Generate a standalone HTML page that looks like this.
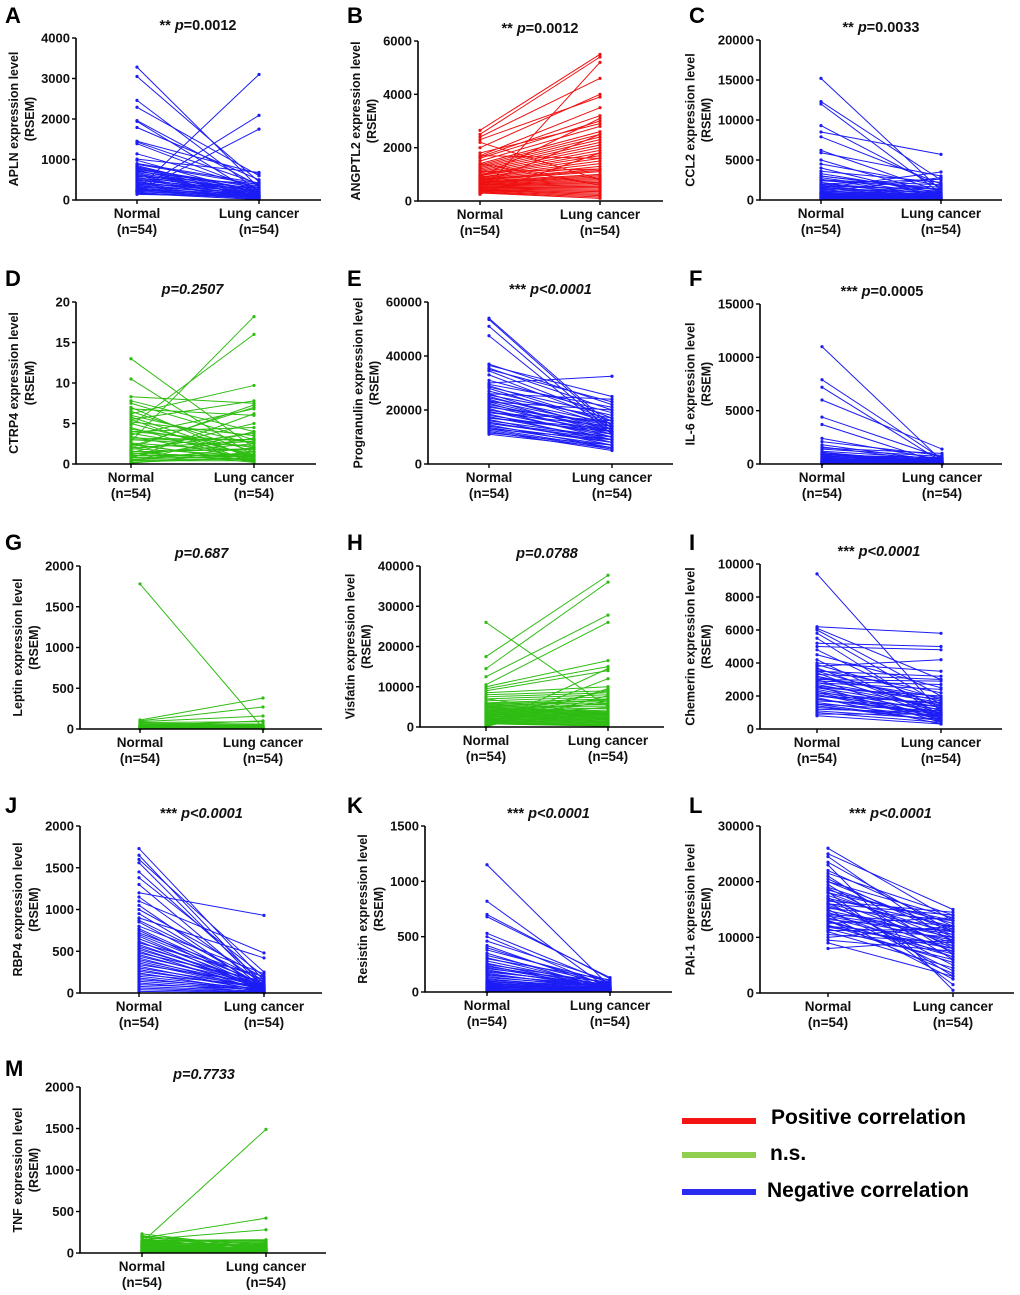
<!DOCTYPE html>
<html><head><meta charset="utf-8"><style>
body{margin:0;background:#fff;}
svg{display:block;font-family:"Liberation Sans",Arial,sans-serif;}
.tk{font-size:13px;font-weight:bold;fill:#111;}
.xl{font-size:13.5px;font-weight:bold;fill:#111;}
.yt{font-size:12.5px;font-weight:bold;fill:#111;}
.ti{font-size:14.5px;font-weight:bold;fill:#111;}
.lt{font-size:22px;font-weight:bold;fill:#000;}
.lg{font-size:21px;font-weight:bold;fill:#000;font-family:"Liberation Sans",sans-serif;}
</style></head><body>
<svg id="fig" width="1020" height="1295" viewBox="0 0 1020 1295"></svg>
<script>
// ---- data (RSEM values, Normal vs Lung cancer) ----
const aNormal=[3280,3050,2460,2290,1960,1940,1790,1450,1430,1390,1140,1010,980,900,880,850,820,800,780,760,740,720,700,680,650,620,600,580,560,540,520,500,480,460,440,420,400,380,360,340,320,300,280,260,250,240,220,200,180,160,140,250,220,200];
const aCancer=[300,450,200,600,350,100,500,650,400,250,300,680,150,420,380,120,200,90,300,250,60,180,350,140,80,220,110,400,60,300,160,90,250,40,130,200,70,300,110,50,180,80,20,150,60,100,30,120,40,10,80,3100,2090,1750];
const bNormal=[2650,2500,2400,2300,1700,1650,1600,1500,1400,1350,1300,1250,1200,1150,1100,1050,1000,980,950,900,880,850,820,800,780,750,720,700,680,650,620,600,580,550,520,500,480,450,420,400,380,350,320,300,280,250,1700,1800,2200,900,1100,600,1400,2000];
const bCancer=[5500,5400,4600,3900,3500,3200,3000,2800,2600,2500,2400,2300,2200,2100,2000,1900,1800,1700,1600,1500,1400,1300,1200,1150,1100,1000,950,900,850,800,750,700,650,600,550,500,450,400,350,300,250,200,150,100,5200,1800,1600,2900,800,3100,1200,2500,600,4000];
const cNormal=[15200,12300,12000,9300,8500,7900,6200,5900,5000,4500,4000,3600,3300,3000,2800,2600,2400,2200,2000,1900,1800,1700,1600,1500,1400,1300,1200,1100,1000,950,900,850,800,750,700,650,600,550,500,450,400,350,300,250,200,150,100,1500,2000,2500,1000,800,600,3000];
const cCancer=[1200,2500,800,1500,5700,2000,1000,3000,600,1800,400,2200,900,1300,700,500,1600,300,1100,800,200,1400,600,900,400,1000,300,700,200,500,800,400,600,300,200,500,100,300,400,200,100,300,150,200,100,50,100,3500,2600,1900,2800,700,300,1200];
const dNormal=[13,10.5,8.3,7.8,7.5,7,6.8,6.5,6.2,6,5.8,5.5,5.2,5,4.8,4.5,4.3,4,3.8,3.6,3.4,3.2,3,2.8,2.6,2.4,2.2,2,1.9,1.8,1.6,1.5,1.4,1.3,1.2,1.1,1,0.9,0.8,0.7,0.6,0.5,0.4,0.3,0.2,0.1,3,2.5,4,1,0.5,2,5.5,1.5];
const dCancer=[2,1,7.5,4,3,0.5,6,1.5,9.7,2.5,0.8,7.8,3.5,1,16,0.3,2,4.5,1.2,6.8,0.6,3,2.2,18.2,1.5,0.4,7,2.8,1,3.8,0.2,1.8,5,0.9,2.5,0.5,1.2,3.2,0.7,6.2,1,2,0.4,4,0.8,1.5,3,0.3,2.7,1.1,0.6,7.3,0.2,1.9];
const eNormal=[54000,53500,51000,47500,37000,36500,35500,35000,34500,33000,31000,30000,29500,29000,28500,28000,27000,26000,25500,25000,24500,24000,23500,23000,22500,22000,21500,21000,20500,20000,19500,19000,18500,18000,17500,17000,16500,16000,15500,15000,14500,14000,13500,13000,12500,12000,11500,11000,26000,23000,19000,17000,15000,13000];
const eCancer=[14000,13000,12000,11000,22000,25000,20000,23000,17000,16000,19000,32500,21000,15000,18000,14000,16000,12000,17000,13000,15000,11000,14000,12000,10000,13000,11000,15000,9000,12000,10000,14000,8000,11000,9000,12000,7000,10000,8000,9000,6000,8000,7000,6000,5500,5000,7000,6000,24000,20000,16000,13000,10000,9000];
const fNormal=[11000,7900,7200,6000,4400,3700,2400,2100,1800,1600,1400,1200,1100,1000,950,900,850,800,750,700,650,600,550,500,450,400,380,360,340,320,300,280,260,240,220,200,180,160,140,120,100,80,60,50,40,30,20,10,1500,900,600,300,200,100];
const fCancer=[300,500,200,1400,600,100,400,800,300,200,700,500,100,300,400,200,600,100,300,200,500,100,300,200,400,100,200,300,100,200,50,300,100,200,50,100,200,50,100,30,50,100,20,50,30,10,20,5,1000,200,100,50,30,10];
const gNormal=[1780,110,100,90,80,70,60,50,45,40,35,30,28,26,24,22,20,18,16,14,12,10,9,8,7,6,5,4,3,2,1,30,25,20,15,10,8,6,4,2,1,40,35,30,25,20,15,12,10,8,6,4,2,0];
const gCancer=[10,380,270,160,90,60,50,40,30,25,20,18,16,14,12,10,8,6,5,4,3,2,1,1,30,25,20,15,10,8,6,4,2,1,0,12,10,8,6,4,2,100,50,30,20,15,10,8,6,4,3,2,1,0];
const hNormal=[26000,17500,14500,12500,10500,10000,9500,9000,8500,8000,7500,7000,6500,6000,5800,5600,5400,5200,5000,4800,4600,4400,4200,4000,3800,3600,3400,3200,3000,2800,2600,2400,2200,2000,1800,1600,1400,1200,1000,800,600,400,200,100,5000,4000,3000,2000,7000,6000,3500,2500,1500,500];
const hCancer=[5000,37700,36000,27800,26000,16500,15000,14000,10000,9000,8500,8000,7500,7000,6500,6000,5500,5000,4500,4000,3800,3600,3400,3200,3000,2800,2600,2400,2200,2000,1800,1600,1400,1200,1000,800,600,400,300,200,14500,12000,9500,7800,6800,5800,4800,3800,2800,1800,1000,9000,6500,3500];
const iNormal=[9400,6200,6100,6000,5800,5500,5200,5000,4800,4500,4200,4000,3900,3800,3700,3600,3500,3400,3300,3200,3100,3000,2900,2800,2700,2600,2500,2400,2300,2200,2100,2000,1900,1800,1700,1600,1500,1400,1300,1200,1100,1000,900,800,2800,3200,2500,2000,3500,1800,2200,3000,1500,2600];
const iCancer=[1000,5800,3000,2000,1500,800,5000,4800,1200,2500,600,3500,1800,4200,900,2200,1400,700,3000,1100,1900,500,2700,1600,1300,400,2000,1000,800,1500,600,1200,300,900,1400,700,1100,500,800,1000,600,400,900,300,2400,1700,1300,1600,3200,1000,700,2900,500,1800];
const jNormal=[1730,1650,1600,1560,1450,1380,1300,1200,1150,1100,1050,1000,950,900,870,850,800,770,750,720,700,680,650,620,600,580,560,540,520,500,480,460,440,420,400,380,360,340,320,300,280,260,240,220,200,180,160,140,120,100,80,60,40,20];
const jCancer=[150,80,250,60,120,200,40,930,100,480,30,180,70,420,140,60,230,90,50,160,110,40,80,30,200,70,120,50,90,20,140,60,100,30,80,50,40,110,20,70,30,60,10,90,40,20,50,30,10,40,20,10,5,2];
const kNormal=[1150,820,700,680,530,500,460,420,400,380,350,330,310,300,280,260,250,240,230,220,210,200,190,180,170,160,150,140,130,120,110,100,95,90,85,80,75,70,65,60,55,50,45,40,35,30,25,20,15,10,8,6,4,2];
const kCancer=[50,20,120,130,80,40,100,30,60,90,20,70,40,110,50,30,80,20,60,40,90,30,50,70,20,40,60,30,50,20,40,30,20,60,10,30,20,40,10,30,20,10,20,30,10,20,5,10,15,5,10,5,3,2];
const lNormal=[26000,25000,24500,23500,23000,22000,21500,21000,20500,20000,19500,19000,18800,18500,18200,18000,17500,17200,17000,16800,16500,16200,16000,15800,15500,15200,15000,14800,14500,14200,14000,13800,13500,13200,13000,12800,12500,12200,12000,11800,11500,11200,11000,10500,10000,9500,9000,8000,16000,14000,12000,18000,20000,13000];
const lCancer=[13000,15000,9000,11000,500,12000,14000,7000,10000,13500,6000,11500,8000,12500,1500,9500,10500,3000,12000,8500,14500,5000,11000,7500,9000,13000,4000,10000,6500,12000,2500,9500,8000,11000,3500,7000,13500,5500,10000,8500,6000,11500,4500,9000,12000,7500,3000,9500,14000,10500,8000,13000,11000,6500];
const mNormal=[230,210,200,190,180,170,160,150,140,130,120,110,100,95,90,85,80,75,70,65,60,55,50,45,40,35,30,25,20,15,10,5,100,120,140,90,80,70,60,50,40,30,20,110,130,150,95,85,75,65,55,45,35,25];
const mCancer=[60,40,100,50,420,30,280,150,80,1490,20,130,60,40,90,110,30,70,50,20,120,40,60,80,10,30,50,20,40,10,30,20,60,90,140,40,70,50,30,20,10,40,20,80,100,160,60,50,30,20,10,30,20,10];

// ---- panel layout config ----
const BLUE="#1c1cf5",RED="#f01010",GREEN="#2ebc12";
const panels=[
 {id:"A",gene:"APLN",n:aNormal,c:aCancer,col:BLUE,max:4000,ticks:[0,1000,2000,3000,4000],ox:0,oy:0,ax:76,top:38,bot:200,right:321,xn:137,xc:259,title:"** ",p:"p",pv:"=0.0012"},
 {id:"B",gene:"ANGPTL2",n:bNormal,c:bCancer,col:RED,max:6000,ticks:[0,2000,4000,6000],ox:342,oy:0,ax:76,top:41,bot:201,right:321,xn:138,xc:258,title:"** ",p:"p",pv:"=0.0012"},
 {id:"C",gene:"CCL2",n:cNormal,c:cCancer,col:BLUE,max:20000,ticks:[0,5000,10000,15000,20000],ox:684,oy:0,ax:76,top:40,bot:200,right:318,xn:137,xc:257,title:"** ",p:"p",pv:"=0.0033"},
 {id:"D",gene:"CTRP4",n:dNormal,c:dCancer,col:GREEN,max:20,ticks:[0,5,10,15,20],ox:0,oy:263,ax:76,top:39,bot:201,right:316,xn:131,xc:254,title:"",p:"p=0.2507",pv:""},
 {id:"E",gene:"Progranulin",n:eNormal,c:eCancer,col:BLUE,max:60000,ticks:[0,20000,40000,60000],ox:342,oy:263,ax:86,top:39,bot:201,right:331,xn:147,xc:270,title:"*** ",p:"p<0.0001",pv:""},
 {id:"F",gene:"IL-6",n:fNormal,c:fCancer,col:BLUE,max:15000,ticks:[0,5000,10000,15000],ox:684,oy:263,ax:76,top:41,bot:201,right:318,xn:138,xc:258,title:"*** ",p:"p",pv:"=0.0005"},
 {id:"G",gene:"Leptin",n:gNormal,c:gCancer,col:GREEN,max:2000,ticks:[0,500,1000,1500,2000],ox:0,oy:527,ax:80,top:39,bot:202,right:322,xn:140,xc:263,title:"",p:"p=0.687",pv:""},
 {id:"H",gene:"Visfatin",n:hNormal,c:hCancer,col:GREEN,max:40000,ticks:[0,10000,20000,30000,40000],ox:342,oy:527,ax:78,top:39,bot:200,right:322,xn:144,xc:266,title:"",p:"p=0.0788",pv:""},
 {id:"I",gene:"Chemerin",n:iNormal,c:iCancer,col:BLUE,max:10000,ticks:[0,2000,4000,6000,8000,10000],ox:684,oy:527,ax:76,top:37,bot:202,right:318,xn:133,xc:257,title:"*** ",p:"p<0.0001",pv:""},
 {id:"J",gene:"RBP4",n:jNormal,c:jCancer,col:BLUE,max:2000,ticks:[0,500,1000,1500,2000],ox:0,oy:790,ax:80,top:36,bot:203,right:322,xn:139,xc:264,title:"*** ",p:"p<0.0001",pv:""},
 {id:"K",gene:"Resistin",n:kNormal,c:kCancer,col:BLUE,max:1500,ticks:[0,500,1000,1500],ox:342,oy:790,ax:83,top:36,bot:202,right:330,xn:145,xc:268,title:"*** ",p:"p<0.0001",pv:""},
 {id:"L",gene:"PAI-1",n:lNormal,c:lCancer,col:BLUE,max:30000,ticks:[0,10000,20000,30000],ox:684,oy:790,ax:76,top:36,bot:203,right:330,xn:144,xc:269,title:"*** ",p:"p<0.0001",pv:""},
 {id:"M",gene:"TNF",n:mNormal,c:mCancer,col:GREEN,max:2000,ticks:[0,500,1000,1500,2000],ox:0,oy:1053,ax:80,top:34,bot:200,right:326,xn:142,xc:266,title:"",p:"p=0.7733",pv:""}
];
const NS="http://www.w3.org/2000/svg";
const fig=document.getElementById('fig');
function mk(tag,attrs,parent,text){const e=document.createElementNS(NS,tag);for(const k in attrs)e.setAttribute(k,attrs[k]);if(text!==undefined)e.textContent=text;parent.appendChild(e);return e;}
panels.forEach(P=>{
  const g=mk('g',{transform:`translate(${P.ox},${P.oy})`},fig);
  
  
  const y=v=>P.bot-(v/P.max)*(P.bot-P.top);
  const lt=mk('text',{x:5,y:23,class:'lt'},g,P.id);
  
  
  const t=mk('text',{x:(P.xn+P.xc)/2,y:P.top-8,class:'ti','text-anchor':'middle'},g);
  
  
  if(P.title)mk('tspan',{},t,P.title);
  mk('tspan',{'font-style':'italic'},t,P.p);
  if(P.pv)mk('tspan',{},t,P.pv);
  const lg=mk('g',{stroke:P.col,'stroke-width':1,fill:P.col},g);
  
  
  for(let i=0;i<P.n.length;i++){
    const a=P.n[i],b=P.c[i];
    const ln=mk('line',{x1:P.xn,y1:y(a),x2:P.xc,y2:y(b)},lg);
    
    
    const d1=mk('circle',{cx:P.xn,cy:y(a),r:1.6,stroke:'none'},lg);
    
    
    const d2=mk('circle',{cx:P.xc,cy:y(b),r:1.6,stroke:'none'},lg);
    
    
  }
  const ya=mk('path',{d:`M${P.ax},${P.top}V${P.bot}H${P.right}`,stroke:'#000','stroke-width':1.6,fill:'none'},g);
  
  
  let maxDigits=0;
  P.ticks.forEach(v=>{
    maxDigits=Math.max(maxDigits,String(v).length);
    mk('line',{x1:P.ax-4,x2:P.ax,y1:y(v),y2:y(v),stroke:'#000','stroke-width':1.4},g);
    const tl=mk('text',{x:P.ax-6,y:y(v)+4.5,class:'tk','text-anchor':'end'},g,v);
    
    
  });
  [P.xn,P.xc].forEach(x=>mk('line',{x1:x,x2:x,y1:P.bot,y2:P.bot+4,stroke:'#000','stroke-width':1.4},g));
  [[P.xn,"Normal"],[P.xc,"Lung cancer"]].forEach(([x,s])=>{
    const a=mk('text',{x:x,y:P.bot+18,class:'xl','text-anchor':'middle'},g,s);
    
    
    const b=mk('text',{x:x,y:P.bot+34,class:'xl','text-anchor':'middle'},g,"(n=54)");
    
    
  });
  const my=(P.top+P.bot)/2;
  const tx=P.ax-Math.max(maxDigits,4)*7.5-28;
  const yt=mk('text',{x:0,y:0,class:'yt','text-anchor':'middle',transform:`translate(${tx},${my}) rotate(-90)`},g,P.gene+" expression level");
  
  
  const yt2=mk('text',{x:0,y:0,class:'yt','text-anchor':'middle',transform:`translate(${tx+16},${my}) rotate(-90)`},g,"(RSEM)");
  
  
});
const legendItems=[["Positive correlation","#f51414",1121,1124,771],["n.s.","#8fce4e",1155,1160,770],["Negative correlation","#2b2bf0",1192,1197,767]];
legendItems.forEach(([s,c,ly,ty,tx])=>{
  const r=mk('rect',{x:682,y:ly-3,width:74,height:6,fill:c},fig);
  
  
  const t=mk('text',{x:tx,y:ty,class:'lg'},fig,s);
  
  
});
</script>
</body></html>
